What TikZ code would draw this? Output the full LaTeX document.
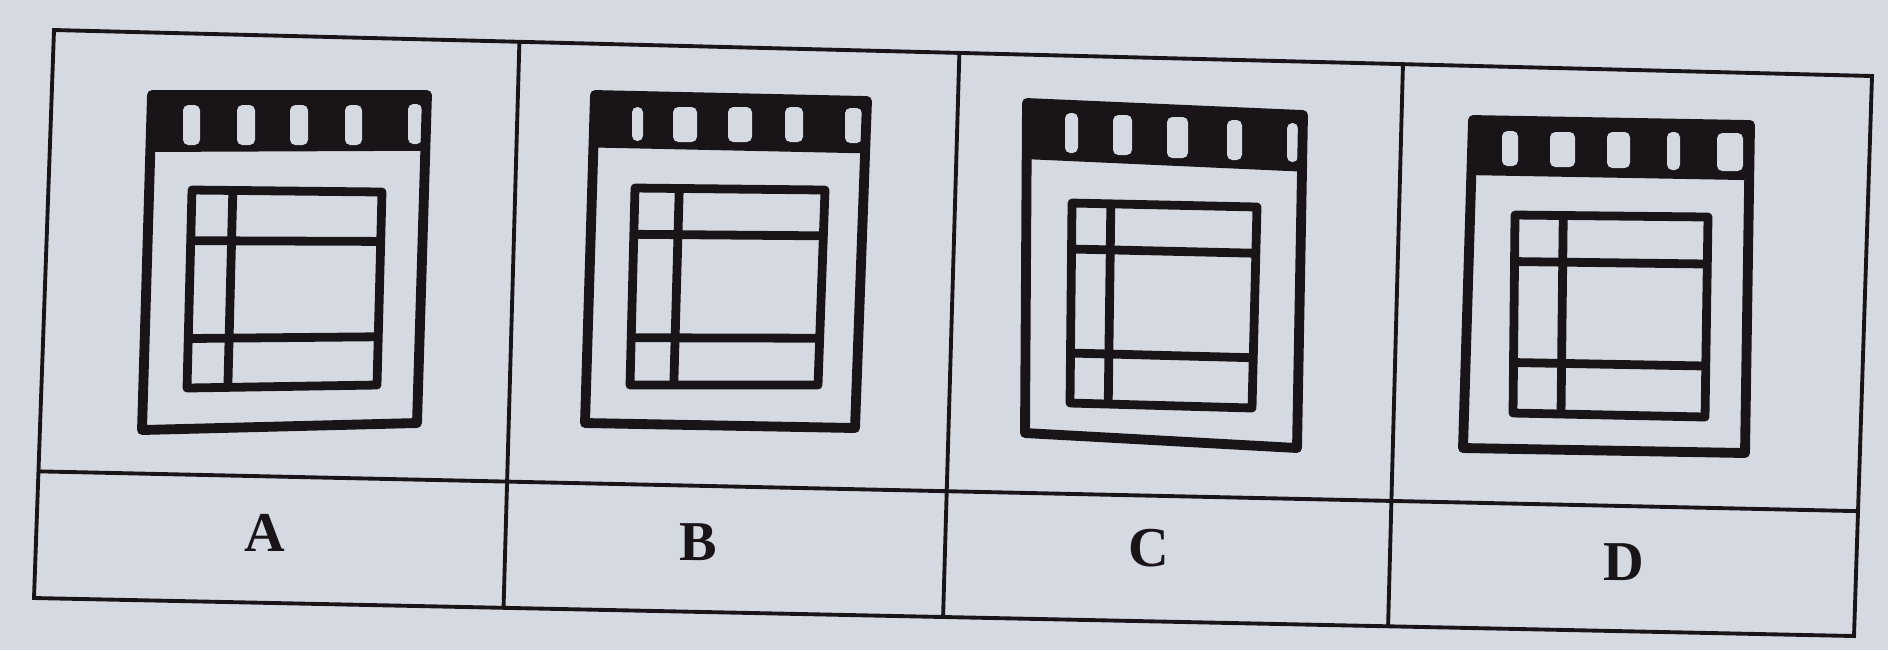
\documentclass[tikz,border=0pt]{standalone}
\usepackage{fontspec}
\setmainfont{Liberation Serif}
\usetikzlibrary{calc}
\definecolor{paper}{RGB}{213,218,226}
\definecolor{ink}{RGB}{24,20,24}
\tikzset{
  frame/.style={ink, line width=2.8pt, line join=round},
  grille/.style={ink, line width=2.5pt, line join=round},
  cadre/.style={ink, line width=1.1pt},
  lettre/.style={font=\fontsize{16}{18}\selectfont\bfseries, text=ink}
}
% #1 name, #2 bar, #3 vertical, #4 #5 horizontals, #6 slots
\newcommand{\drawicon}[6]{%
  \fill[ink] (#1-tl) -- (#1-tr) -- ($(#1-tr)!#2!(#1-br)$) -- ($(#1-tl)!#2!(#1-bl)$) -- cycle;
  \foreach \a/\b/\c/\d in {#6}
    \fill[paper, rounded corners=1.5pt] (\a,\c) rectangle (\b,\d);
  \draw[frame] (#1-tl) -- (#1-tr) -- (#1-br) -- (#1-bl) -- cycle;
  \draw[grille] (#1-itl) -- (#1-itr) -- (#1-ibr) -- (#1-ibl) -- cycle;
  \draw[grille] ($(#1-itl)!#3!(#1-itr)$) -- ($(#1-ibl)!#3!(#1-ibr)$);
  \draw[grille] ($(#1-itl)!#4!(#1-ibl)$) -- ($(#1-itr)!#4!(#1-ibr)$);
  \draw[grille] ($(#1-itl)!#5!(#1-ibl)$) -- ($(#1-itr)!#5!(#1-ibr)$);
}

\begin{document}
\begin{tikzpicture}[x=0.01cm,y=-0.01cm]
\useasboundingbox (0,0) rectangle (1888,650);
\fill[paper] (0,0) rectangle (1888,650);

% table
\coordinate (tl) at (54,30);
\coordinate (tr) at (1872,76);
\coordinate (br) at (1854,636);
\coordinate (bl) at (34,598);
\draw[cadre] (tl) -- (tr) -- (br) -- (bl) -- cycle;
\draw[cadre] ($(tl)!0.777!(bl)$) -- ($(tr)!0.777!(br)$);
\foreach \f/\g in {0.256/0.258, 0.498/0.4995, 0.742/0.744}
  \draw[cadre] ($(tl)!\f!(tr)$) -- ($(bl)!\g!(br)$);

% A
\coordinate (A-tl) at (152,95);  \coordinate (A-tr) at (427,95);
\coordinate (A-br) at (417,423); \coordinate (A-bl) at (142,430);
\coordinate (A-itl) at (192,190); \coordinate (A-itr) at (382,192);
\coordinate (A-ibr) at (377,385); \coordinate (A-ibl) at (187,388);
\drawicon{A}{0.17}{0.215}{0.256}{0.75}{183/200/105/145, 237/255/105/145, 290/308/105/145, 345/362/105/145, 408/422/104/144}

% B
\coordinate (B-tl) at (595,95);  \coordinate (B-tr) at (867,101);
\coordinate (B-br) at (855,428); \coordinate (B-bl) at (585,423);
\coordinate (B-itl) at (635,188); \coordinate (B-itr) at (825,190);
\coordinate (B-ibr) at (818,385); \coordinate (B-ibl) at (630,385);
\drawicon{B}{0.16}{0.233}{0.235}{0.76}{632/643/107/141, 673/697/107/142, 728/752/107/142, 785/803/107/142, 845/862/108/143}

% C
\coordinate (C-tl) at (1027,103);  \coordinate (C-tr) at (1303,115);
\coordinate (C-br) at (1297,448);  \coordinate (C-bl) at (1025,433);
\coordinate (C-itl) at (1072,203); \coordinate (C-itr) at (1257,207);
\coordinate (C-ibr) at (1252,408); \coordinate (C-ibl) at (1070,403);
\drawicon{C}{0.17}{0.21}{0.23}{0.75}{1065/1078/113/153, 1113/1132/115/155, 1167/1188/117/158, 1227/1242/120/160, 1287/1298/123/162}

% D
\coordinate (D-tl) at (1473,120);  \coordinate (D-tr) at (1750,125);
\coordinate (D-br) at (1745,453);  \coordinate (D-bl) at (1463,448);
\coordinate (D-itl) at (1515,215); \coordinate (D-itr) at (1708,217);
\coordinate (D-ibr) at (1705,417); \coordinate (D-ibl) at (1513,413);
\drawicon{D}{0.168}{0.25}{0.235}{0.745}{1502/1518/131/166, 1550/1575/132/167, 1607/1630/132/168, 1667/1680/132/170, 1717/1743/133/171}

\node[lettre] (lettreA) at (265,533) {A};
\node[lettre] (lettreB) at (698,542) {B};
\node[lettre] (lettreC) at (1149,548) {C};
\node[lettre] (lettreD) at (1624,562) {D};
\end{tikzpicture}
\end{document}
